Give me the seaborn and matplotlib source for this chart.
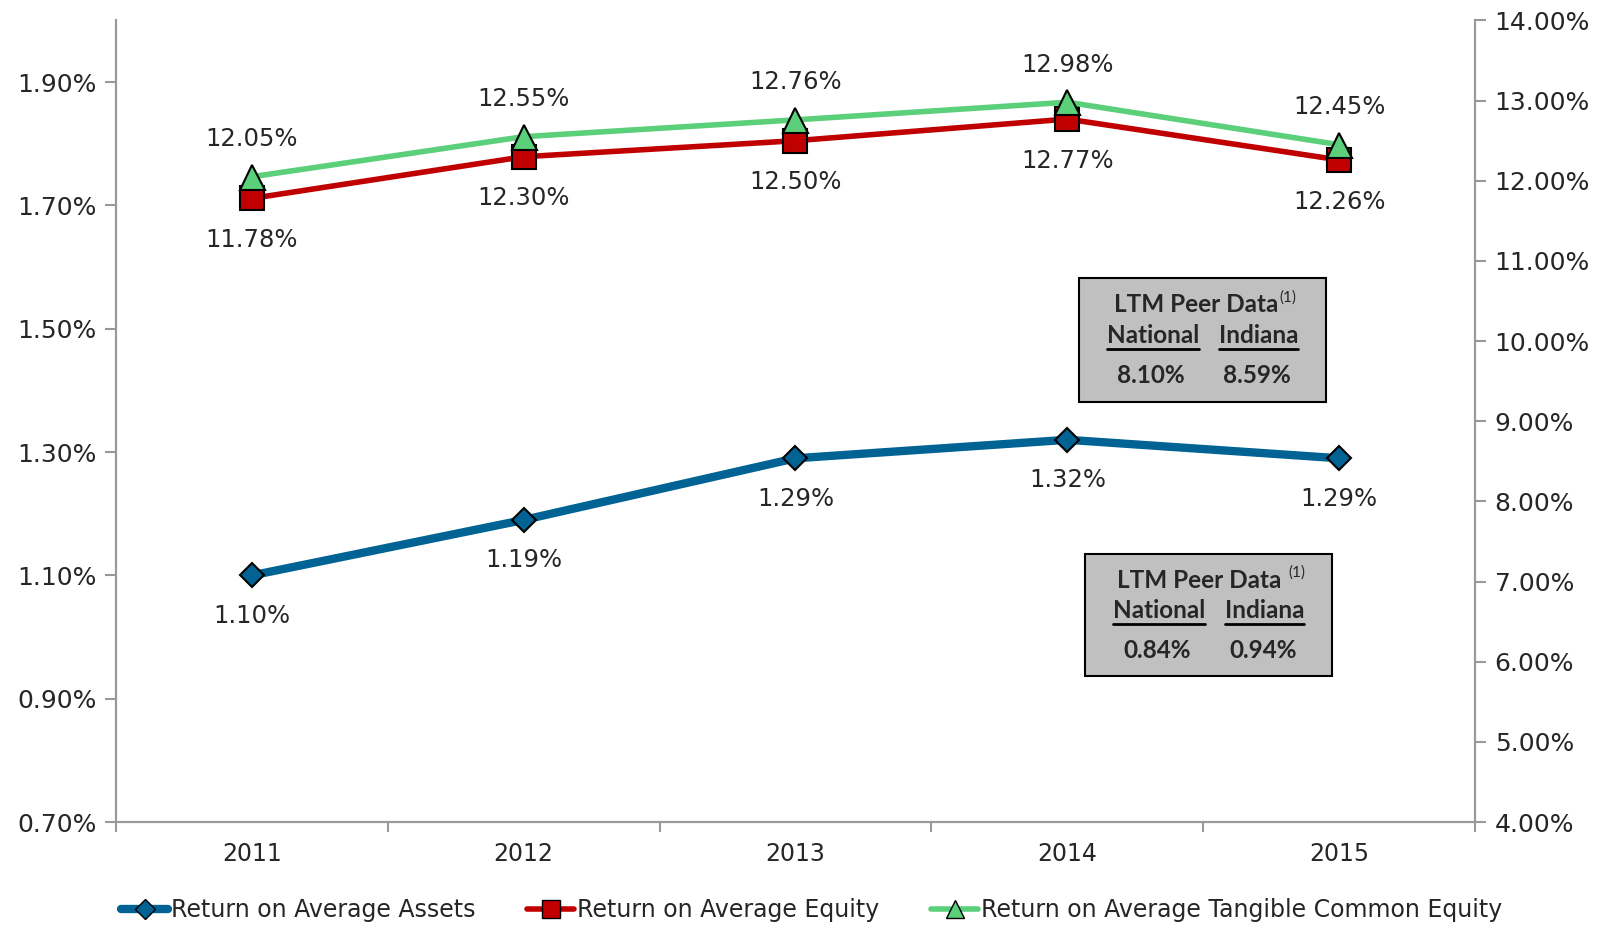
import numpy as np
import pandas as pd
import seaborn as sns
import matplotlib
matplotlib.use("Agg")
from matplotlib import pyplot as plt
from matplotlib.lines import Line2D
from matplotlib.ticker import FuncFormatter, FixedLocator

# data
years = [2011, 2012, 2013, 2014, 2015]
roa = [1.10, 1.19, 1.29, 1.32, 1.29]
roe = [11.78, 12.30, 12.50, 12.77, 12.26]
rotce = [12.05, 12.55, 12.76, 12.98, 12.45]

peer_roe = ["8.10%", "8.59%"]
peer_roa = ["0.84%", "0.94%"]

c_roa = "#006394"
c_roe = "#C00000"
c_rotce = "#5BCF7A"
grey = "#999999"

sns.set_theme(style="white")
plt.rcParams["font.family"] = ["DejaVu Sans"]

df = pd.DataFrame({"year": years, "roa": roa, "roe": roe, "rotce": rotce})

fig = plt.figure(figsize=(16.07, 9.30), dpi=100)
ax = fig.add_axes([0.072, 0.116, 0.846, 0.862])
ax2 = ax.twinx()

sns.lineplot(data=df, x="year", y="roa", ax=ax, color=c_roa, lw=6, marker="D",
             markersize=12, markeredgecolor="black", markeredgewidth=1.5)
sns.lineplot(data=df, x="year", y="roe", ax=ax2, color=c_roe, lw=4, marker="s",
             markersize=17, markeredgecolor="black", markeredgewidth=1.5)
sns.lineplot(data=df, x="year", y="rotce", ax=ax2, color=c_rotce, lw=4, marker="^",
             markersize=18, markeredgecolor="black", markeredgewidth=1.5)

ax.set_xlim(2010.5, 2015.5)
ax.set_ylim(0.70, 2.00)
ax2.set_ylim(4.0, 14.0)

ax.set_yticks([0.7, 0.9, 1.1, 1.3, 1.5, 1.7, 1.9])
ax.yaxis.set_major_formatter(FuncFormatter(lambda v, p: f"{v:.2f}%"))
ax2.set_yticks(np.arange(4, 14.01, 1))
ax2.yaxis.set_major_formatter(FuncFormatter(lambda v, p: f"{v:.2f}%"))

ax.set_xticks(years)
ax.set_xticklabels([str(y) for y in years])
ax.xaxis.set_minor_locator(FixedLocator(np.arange(2010.5, 2016, 1)))
ax.tick_params(axis="x", which="major", length=0, pad=14, labelsize=17)
ax.tick_params(axis="x", which="minor", length=7, width=1.5, color=grey, direction="out", bottom=True)
ax.tick_params(axis="y", length=8, width=1.5, color=grey, direction="out", left=True, labelsize=18, pad=6)
ax2.tick_params(axis="y", length=8, width=1.5, color=grey, direction="out", right=True, labelsize=18, pad=6)

ax.set_xlabel("")
ax.set_ylabel("")
ax2.set_ylabel("")
for a in (ax, ax2):
    a.grid(False)
    a.spines["top"].set_visible(False)
    for s in ("left", "right", "bottom"):
        a.spines[s].set_color(grey)
        a.spines[s].set_linewidth(1.5)

# value labels
for x, v in zip(years, roa):
    ax.annotate(f"{v:.2f}%", (x, v), xytext=(0, -29), textcoords="offset points",
                ha="center", va="center", fontsize=17.5)
for x, v in zip(years, roe):
    ax2.annotate(f"{v:.2f}%", (x, v), xytext=(0, -30), textcoords="offset points",
                 ha="center", va="center", fontsize=17.5)
for x, v in zip(years, rotce):
    ax2.annotate(f"{v:.2f}%", (x, v), xytext=(0, 27), textcoords="offset points",
                 ha="center", va="center", fontsize=17.5)

# peer data boxes
box_font = ["Lato", "DejaVu Sans"]


def peer_box(x0, y0, w, h, vals, gap=""):
    fig.patches.append(plt.Rectangle((x0, y0), w, h, transform=fig.transFigure,
                                     facecolor="#C0C0C0", edgecolor="black", lw=1.5, zorder=5))
    cx = x0 + w / 2
    t = fig.text(cx - 0.004, y0 + h * 0.785, "LTM Peer Data" + gap, ha="center", va="center",
                 fontsize=17.5, fontweight="bold", family=box_font, zorder=6)
    fig.canvas.draw()
    bb = t.get_window_extent().transformed(fig.transFigure.inverted())
    fig.text(bb.x1 + 0.001, y0 + h * 0.845, "(1)", ha="left", va="center",
             fontsize=11, family=box_font, zorder=6)
    for dx, lab, val in ((-0.031, "National", vals[0]), (0.035, "Indiana", vals[1])):
        tt = fig.text(cx + dx, y0 + h * 0.54, lab, ha="center", va="center",
                      fontsize=17.5, fontweight="bold", family=box_font, zorder=6)
        fig.canvas.draw()
        b = tt.get_window_extent().transformed(fig.transFigure.inverted())
        fig.lines.append(Line2D([b.x0, b.x1], [b.y0 - 0.003, b.y0 - 0.003],
                                transform=fig.transFigure, color="black", lw=2, zorder=6))
        fig.text(cx + dx - 0.001, y0 + h * 0.21, val, ha="center", va="center",
                 fontsize=17.5, fontweight="bold", family=box_font, zorder=6)


peer_box(1079 / 1607, 1 - 402 / 930, 247 / 1607, 124 / 930, peer_roe)
peer_box(1085 / 1607, 1 - 676 / 930, 247 / 1607, 122 / 930, peer_roa, gap=" ")

# legend
handles = [
    Line2D([], [], color=c_roa, lw=6, marker="D", markersize=10, markeredgecolor="black"),
    Line2D([], [], color=c_roe, lw=4, marker="s", markersize=13, markeredgecolor="black"),
    Line2D([], [], color=c_rotce, lw=4, marker="^", markersize=13, markeredgecolor="black"),
]
labels = ["Return on Average Assets", "Return on Average Equity",
          "Return on Average Tangible Common Equity"]
fig.legend(handles, labels, loc="center", bbox_to_anchor=(0.505, 0.021), ncol=3,
           frameon=False, handlelength=2.0, handletextpad=0.1, columnspacing=2.2,
           prop={"family": ["DejaVu Sans"], "size": 17})

fig.savefig("out.png", dpi=100)
